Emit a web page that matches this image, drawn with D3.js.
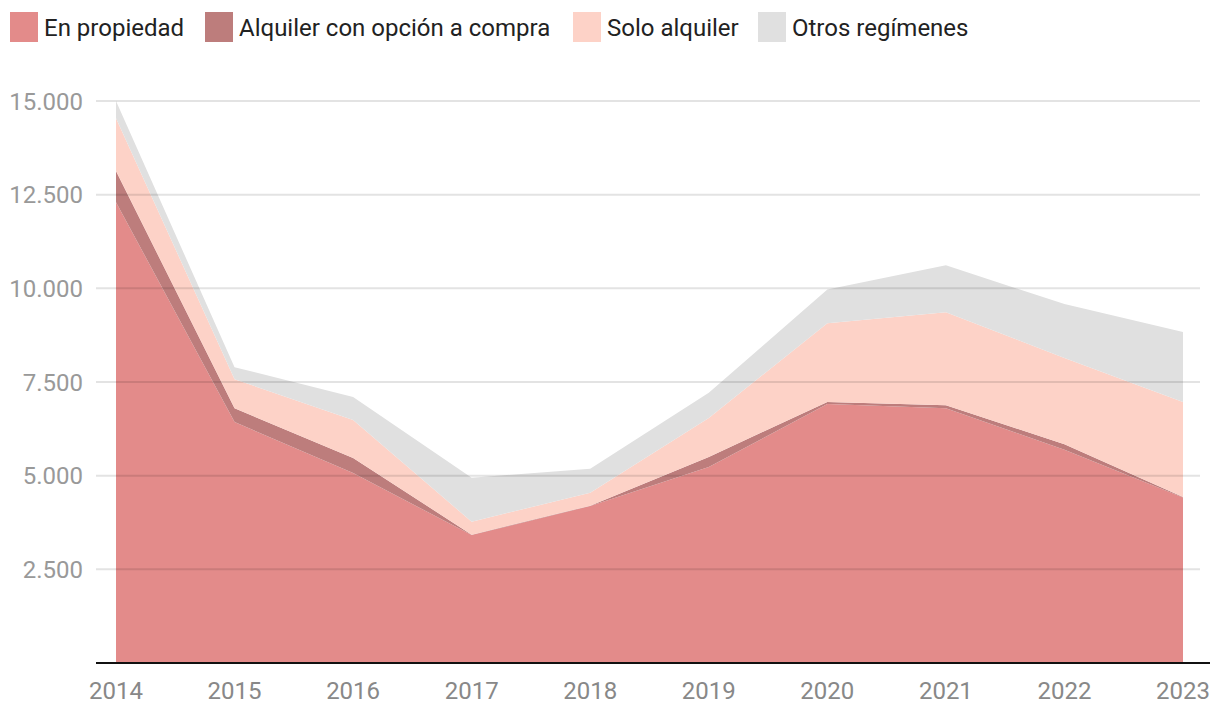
<!DOCTYPE html>
<html><head><meta charset="utf-8">
<script src="https://cdn.jsdelivr.net/npm/d3@7"></script>
<style>
body{margin:0;background:#fff;}
svg{display:block;font-family:Roboto, "Noto Sans", sans-serif;}
</style></head>
<body>
<svg id="c" width="1220" height="716"></svg>
<script>
const years = [2014,2015,2016,2017,2018,2019,2020,2021,2022,2023];
const enPropiedad   = [12300,6430,5070,3415,4190,5230,6910,6800,5690,4420];
const alquilerOpcion= [830,370,400,10,10,270,55,80,150,10];
const soloAlquiler  = [1410,775,1015,345,345,1040,2105,2480,2300,2535];
const otros         = [460,320,615,1175,640,670,900,1255,1440,1870];
const seriesNames = ["En propiedad","Alquiler con opción a compra","Solo alquiler","Otros regímenes"];
const colors = ["#e38b8a","#bd7d7c","#fdd2c7","#e0e0e0"];
const yTicks = [2500,5000,7500,10000,12500,15000];

const svg = d3.select("#c");
const x = d3.scaleLinear().domain([2014,2023]).range([116,1183]);
const y = d3.scaleLinear().domain([0,15000]).range([663,101]);

const rows = years.map((yr,i)=>({year:yr,
  [seriesNames[0]]:enPropiedad[i],[seriesNames[1]]:alquilerOpcion[i],
  [seriesNames[2]]:soloAlquiler[i],[seriesNames[3]]:otros[i]}));
const stacked = d3.stack().keys(seriesNames)(rows);

const area = d3.area().x(d=>x(d.data.year)).y0(d=>y(d[0])).y1(d=>y(d[1]));
svg.append("g").selectAll("path").data(stacked).join("path")
  .attr("d",area).attr("fill",(d,i)=>colors[i]);

// grid
svg.append("g").selectAll("line").data(yTicks).join("line")
  .attr("x1",96).attr("x2",1200).attr("y1",d=>y(d)).attr("y2",d=>y(d))
  .attr("stroke","#000").attr("stroke-opacity",0.11).attr("stroke-width",2);

const fmt = d=>d3.format(",")(d).replace(/,/g,".");
svg.append("g").selectAll("text").data(yTicks).join("text")
  .attr("x",83).attr("y",d=>y(d)).attr("dy","0.36em").attr("text-anchor","end")
  .attr("fill","#999").attr("font-size",24).text(fmt);

// baseline axis
svg.append("line").attr("x1",96).attr("x2",1210).attr("y1",y(0)).attr("y2",y(0))
  .attr("stroke","#111").attr("stroke-width",2);

svg.append("g").selectAll("text").data(years).join("text")
  .attr("x",d=>x(d)).attr("y",699).attr("text-anchor","middle")
  .attr("fill","#888").attr("font-size",24).text(d=>d);

// legend
const legX = [10,205,573,758];
const lg = svg.append("g").selectAll("g").data(seriesNames).join("g")
  .attr("transform",(d,i)=>`translate(${legX[i]},12)`);
lg.append("rect").attr("width",28).attr("height",30).attr("fill",(d,i)=>colors[i]);
lg.append("text").attr("x",34).attr("y",15).attr("dy","0.36em")
  .attr("font-size",24).attr("fill","#222").text(d=>d);
</script>
</body></html>
